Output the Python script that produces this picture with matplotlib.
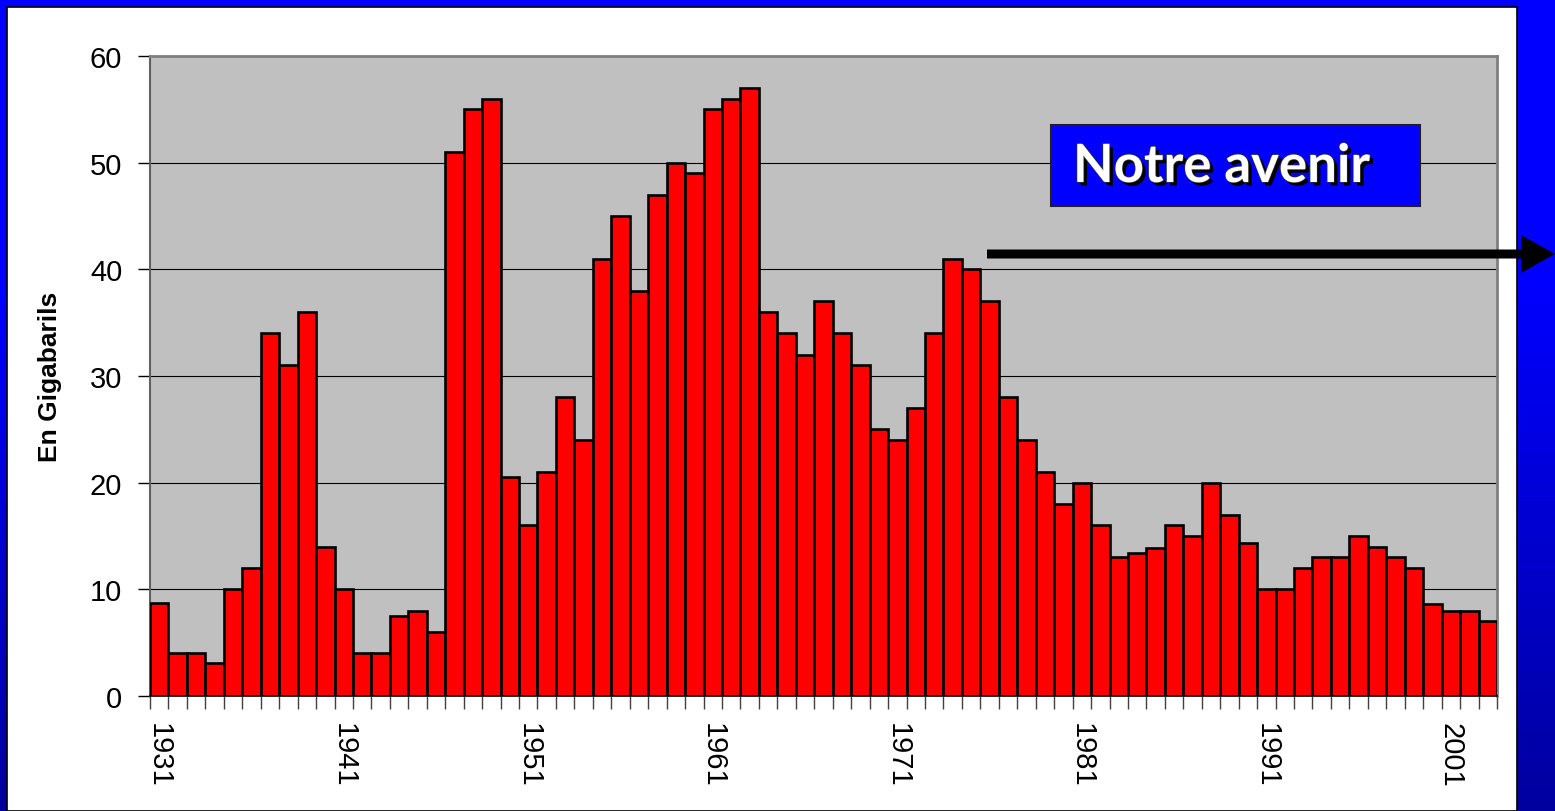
import numpy as np
import matplotlib
matplotlib.use("Agg")
import matplotlib.pyplot as plt
from matplotlib.patches import Rectangle, FancyArrow
import matplotlib.patheffects as pe

plt.rcParams['font.family'] = ['Liberation Sans', 'DejaVu Sans']

years = list(range(1931, 2004))
values = [8.7, 4, 4, 3.1, 10, 12, 34, 31, 36, 14,
          10, 4, 4, 7.5, 8, 6, 51, 55, 56, 20.5,
          16, 21, 28, 24, 41, 45, 38, 47, 50, 49,
          55, 56, 57, 36, 34, 32, 37, 34, 31, 25,
          24, 27, 34, 41, 40, 37, 28, 24, 21, 18,
          20, 16, 13, 13.4, 13.9, 16, 15, 20, 17, 14.3,
          10, 10, 12, 13, 13, 15, 14, 13, 12, 8.6,
          8, 8, 7]
label_years = list(range(1931, 2004, 10))
y_ticks = [0, 10, 20, 30, 40, 50, 60]
y_label = "En Gigabarils"
box_text = "Notre avenir"

W, H = 1555, 812
fig = plt.figure(figsize=(W / 100, H / 100), dpi=100)

# background gradient
bg = fig.add_axes([0, 0, 1, 1], zorder=-10)
rows = np.linspace(0, 1, 400)
blue = np.where(rows < 0.35, 1.0, 1.0 - (rows - 0.35) / 0.65 * 0.38)
img = np.zeros((400, 2, 3))
img[:, :, 2] = blue[:, None]
bg.imshow(img, aspect='auto', extent=[0, 1, 0, 1], origin='upper')
bg.set_xlim(0, 1)
bg.set_ylim(0, 1)
bg.axis('off')
bg.add_patch(Rectangle((7 / W, 0), (1517 - 7) / W, (H - 8) / H,
                       facecolor='white', edgecolor='black', linewidth=1.2))

# main axes
ax = fig.add_axes([150 / W, (H - 697) / H, 1347 / W, 640 / H], zorder=1)
ax.set_facecolor('#C0C0C0')
x = np.arange(len(years))
ax.bar(x, values, width=1.0, color='#FF0000', edgecolor='black', linewidth=1.9, zorder=3)
ax.set_xlim(-0.5, len(years) - 0.5)
ax.set_ylim(0, 60)
ax.set_yticks(y_ticks)
ax.set_yticklabels([str(v) for v in y_ticks], fontsize=21)
ax.yaxis.grid(True, color='black', linewidth=0.8, zorder=0)
ax.set_axisbelow(True)

ax.set_xticks([years.index(yy) for yy in label_years])
ax.set_xticklabels([str(yy) for yy in label_years], rotation=270, fontsize=21)
ax.set_xticks(np.arange(len(years) + 1) - 0.5, minor=True)
ax.tick_params(axis='x', which='major', length=0, pad=19)
ax.tick_params(axis='x', which='minor', length=9, color='#404040', width=1)
ax.tick_params(axis='y', length=9, color='black', width=1, pad=11)

for s in ['top', 'right']:
    ax.spines[s].set_color('#808080')
    ax.spines[s].set_linewidth(2)
ax.spines['left'].set_color('#606060')
ax.spines['left'].set_linewidth(1.5)
ax.spines['bottom'].set_color('black')
ax.spines['bottom'].set_linewidth(1.2)

ax.set_ylabel(y_label, fontsize=19, fontweight='bold')
ax.yaxis.set_label_coords((62 - 150) / 1347, 0.5)

# text box
fig.patches.append(Rectangle((1051 / W, (H - 207) / H), (1420 - 1051) / W, 81 / H,
                             transform=fig.transFigure, facecolor='#0000FF',
                             edgecolor='#202020', linewidth=1.5, zorder=5))
t = fig.text(1073 / W, (H - 183) / H, box_text, transform=fig.transFigure,
             fontsize=38, fontweight='bold', color='white', ha='left', va='baseline',
             family=['Lato', 'DejaVu Sans'], zorder=6)
t.set_path_effects([pe.withSimplePatchShadow(offset=(2.5, -2.5), shadow_rgbFace='black', alpha=1.0),
                    pe.Stroke(linewidth=1, foreground='#303030'), pe.Normal()])

# arrow
fig.patches.append(FancyArrow(987 / W, (H - 255) / H, (1555 - 987) / W, 0,
                              width=9 / H, head_width=38 / H, head_length=34 / W,
                              length_includes_head=True, transform=fig.transFigure,
                              facecolor='black', edgecolor='black', linewidth=0, zorder=6))

fig.savefig('out.png', dpi=100)
